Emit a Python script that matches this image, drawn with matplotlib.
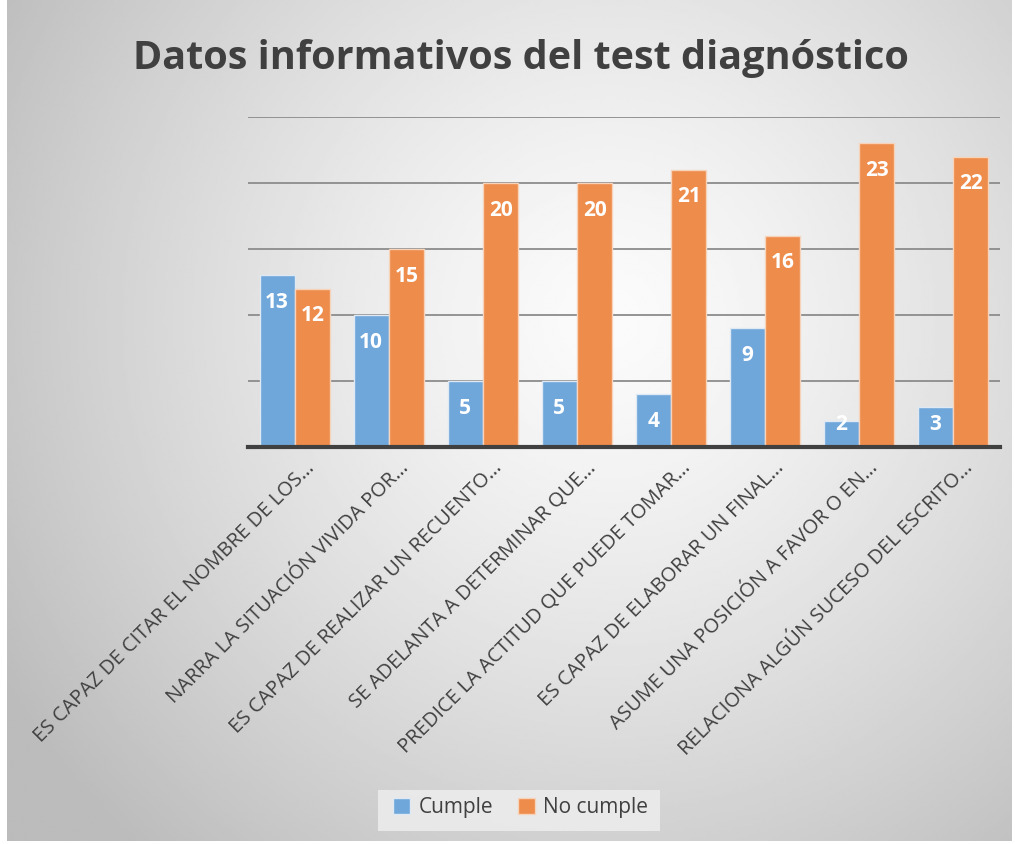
import numpy as np
import matplotlib
matplotlib.use('Agg')
import matplotlib.pyplot as plt
from matplotlib.patches import Rectangle

# data
categories = [
    'ES CAPAZ DE CITAR EL NOMBRE DE LOS…',
    'NARRA LA SITUACIÓN VIVIDA POR…',
    'ES CAPAZ DE REALIZAR UN RECUENTO…',
    'SE ADELANTA A DETERMINAR QUE…',
    'PREDICE LA ACTITUD QUE PUEDE TOMAR…',
    'ES CAPAZ DE ELABORAR UN FINAL…',
    'ASUME UNA POSICIÓN A FAVOR O EN…',
    'RELACIONA ALGÚN SUCESO DEL ESCRITO…',
]
cumple = [13, 10, 5, 5, 4, 9, 2, 3]
no_cumple = [12, 15, 20, 20, 21, 16, 23, 22]
series_names = ['Cumple', 'No cumple']

blue = '#70a7db'
orange = '#ee8c4c'
text_gray = '#404040'
font = 'Open Sans'

W, H = 1015, 844
fig = plt.figure(figsize=(W / 100, H / 100), dpi=100)
fig.patch.set_facecolor('white')

# radial gradient background
bg = fig.add_axes([0.007, 0.003, 0.99, 0.997])
bg.set_axis_off()
yy, xx = np.mgrid[0:1:300j, 0:1:360j]
r = np.sqrt(((xx - 0.6) * 1.2) ** 2 + (yy - 0.38) ** 2)
img = 0.985 - 0.25 * np.clip(r / 0.85, 0, 1) ** 1.3
bg.imshow(img, cmap='gray', vmin=0, vmax=1, aspect='auto',
          extent=[0, 1, 1, 0], interpolation='bilinear')
bg.set_xlim(0, 1)
bg.set_ylim(1, 0)

# main axes
left, right = 248 / W, 1000 / W
bottom, top = 1 - 447 / H, 1 - 117 / H
ax = fig.add_axes([left, bottom, right - left, top - bottom])
ax.patch.set_alpha(0)

x = np.arange(len(categories))
bw = 0.37
b1 = ax.bar(x - bw / 2 - 0.005, cumple, bw, color=blue, edgecolor='#dfe9f3',
            linewidth=1, zorder=3)
b2 = ax.bar(x + bw / 2 + 0.005, no_cumple, bw, color=orange, edgecolor='#f6d3bb',
            linewidth=1, zorder=3)

ax.set_xlim(-0.5, len(categories) - 0.5)
ax.set_ylim(0, 25)
px_per_unit = (447 - 117) / 25

for bars, vals in [(b1, cumple), (b2, no_cumple)]:
    for rect, v in zip(bars, vals):
        off = min(27, max(v * px_per_unit - 23, 0))
        ax.annotate(str(v), (rect.get_x() + rect.get_width() / 2, v),
                    xytext=(0, -off), textcoords='offset pixels',
                    ha='center', va='center', color='white', fontsize=15,
                    fontweight='bold', family=font, zorder=6)

ax.set_yticks([5, 10, 15, 20, 25])
ax.yaxis.grid(True, color='#8c8c8c', linewidth=1.3, zorder=0)
ax.tick_params(axis='y', length=0, labelleft=False)
ax.tick_params(axis='x', length=0)
for s in ['left', 'right', 'top']:
    ax.spines[s].set_visible(False)
ax.spines['bottom'].set_color(text_gray)
ax.spines['bottom'].set_linewidth(3)
ax.spines['bottom'].set_zorder(5)

ax.set_xticks(x + 0.1)
ax.set_xticklabels(categories, rotation=45, ha='right', rotation_mode='anchor',
                   fontsize=14.5, color=text_gray, family=font)
ax.tick_params(axis='x', pad=8)

fig.text(0.513, 1 - 58 / H, 'Datos informativos del test diagnóstico',
         ha='center', va='center', fontsize=28.5, fontweight='bold',
         color=text_gray, family=font)

# legend
fig.patches.append(Rectangle((378 / W, 1 - 831 / H), 282 / W, 41 / H,
                             transform=fig.transFigure, facecolor='#efefef',
                             edgecolor='none', alpha=0.8, zorder=1))
leg = fig.legend([b1, b2], series_names, loc='center', bbox_to_anchor=(0.513, 1 - 808 / H),
                 ncol=2, frameon=False, handlelength=0.8, handleheight=0.8,
                 columnspacing=1.2, handletextpad=0.4,
                 prop={'family': font, 'size': 15})
for t in leg.get_texts():
    t.set_color(text_gray)

fig.savefig('out.png', dpi=100)
